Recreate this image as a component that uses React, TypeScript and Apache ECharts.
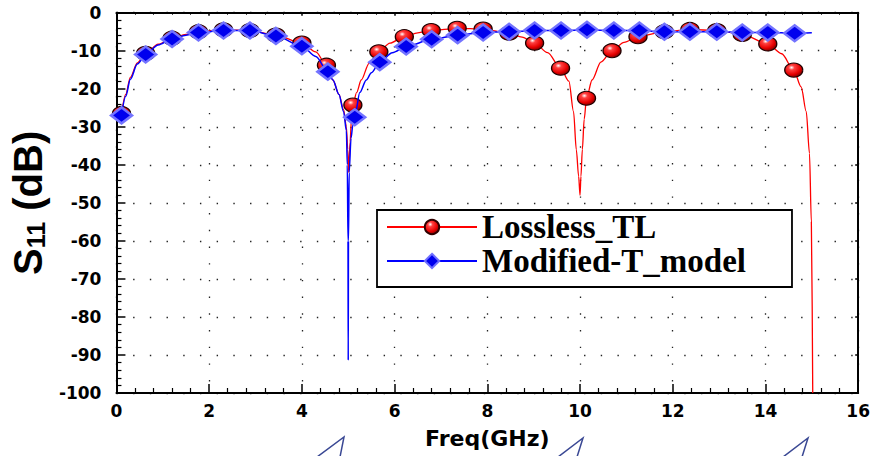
import React, { useEffect, useRef } from "react";
import * as echarts from "echarts";

// Lossless_TL: hand-read curve
const losslessFreq = [0.11, 0.2, 0.3, 0.45, 0.63, 0.9, 1.2, 1.5, 1.77, 2.31, 2.88, 3.44, 4.0, 4.3, 4.53, 4.67, 4.8, 4.9, 4.96, 4.99, 5.01, 5.04, 5.07, 5.1, 5.18, 5.28, 5.45, 5.66, 5.9, 6.21, 6.5, 6.79, 7.35, 7.91, 8.47, 8.75, 9.02, 9.3, 9.58, 9.76, 9.86, 9.92, 9.97, 10.0, 10.02, 10.05, 10.09, 10.14, 10.26, 10.45, 10.69, 10.95, 11.25, 11.82, 12.37, 12.95, 13.5, 14.05, 14.35, 14.61, 14.77, 14.88, 14.95, 14.99, 15.02];
const losslessDb = [-26.5, -21.5, -17, -13.2, -10.7, -8.3, -6.7, -5.7, -5.0, -4.5, -4.7, -5.9, -8.0, -10.3, -13.8, -17.7, -21.5, -25.5, -30, -36, -42, -34, -28, -24.3, -21, -17.7, -13.3, -10.3, -8.0, -6.3, -5.3, -4.7, -4.1, -4.3, -5.4, -6.4, -8.0, -10.5, -14.6, -18, -26, -36, -43, -48, -43, -36, -28, -22.5, -17.7, -13, -10.0, -7.8, -6.3, -5.0, -4.4, -4.7, -5.7, -8.2, -10.8, -15.1, -19.5, -26, -37, -55, -100];
// Lossless_TL: markers
const losslessMarkFreq = [0.11, 0.63, 1.2, 1.77, 2.31, 2.88, 3.44, 4.0, 4.53, 5.1, 5.66, 6.21, 6.79, 7.35, 7.91, 8.47, 9.02, 9.58, 10.14, 10.69, 11.25, 11.82, 12.37, 12.95, 13.5, 14.05, 14.61];
const losslessMarkDb = [-26.5, -10.7, -6.7, -5.0, -4.5, -4.7, -5.9, -8.0, -13.8, -24.3, -10.3, -6.3, -4.7, -4.1, -4.3, -5.4, -8.0, -14.6, -22.5, -10.0, -6.3, -5.0, -4.4, -4.7, -5.7, -8.2, -15.1];

// Modified-T_model: hand-read curve
const modelFreq = [0.11, 0.2, 0.3, 0.45, 0.63, 0.9, 1.2, 1.5, 1.77, 2.31, 2.88, 3.44, 4.0, 4.3, 4.56, 4.67, 4.8, 4.9, 4.96, 4.98, 4.995, 5.0, 5.005, 5.02, 5.06, 5.1, 5.14, 5.25, 5.39, 5.5, 5.68, 5.95, 6.25, 6.8, 7.36, 7.91, 8.47, 9.02, 9.59, 10.15, 10.73, 11.28, 11.82, 12.37, 12.95, 13.5, 14.05, 14.63, 15.0];
const modelDb = [-27, -22, -17.5, -13.5, -11.0, -8.5, -6.9, -5.9, -5.2, -4.7, -4.7, -6.1, -8.8, -11.5, -15.5, -17.7, -21.5, -26, -31, -40, -60, -91.4, -60, -42, -33, -29.5, -27.5, -21, -17.7, -15.8, -13.0, -10.5, -8.9, -7.0, -5.9, -5.2, -5.0, -4.7, -4.7, -4.5, -4.7, -4.7, -5.0, -5.0, -5.0, -5.2, -5.2, -5.4, -5.3];
// Modified-T_model: markers
const modelMarkFreq = [0.11, 0.63, 1.2, 1.77, 2.31, 2.88, 3.44, 4.0, 4.56, 5.14, 5.68, 6.25, 6.8, 7.36, 7.91, 8.47, 9.02, 9.59, 10.15, 10.73, 11.28, 11.82, 12.37, 12.95, 13.5, 14.05, 14.63];
const modelMarkDb = [-27.0, -11.0, -6.9, -5.2, -4.7, -4.7, -6.1, -8.8, -15.5, -27.5, -13.0, -8.9, -7.0, -5.9, -5.2, -5.0, -4.7, -4.7, -4.5, -4.7, -4.7, -5.0, -5.0, -5.0, -5.2, -5.2, -5.4];

const seriesNames = ["Lossless_TL", "Modified-T_model"];

const pairs = (xs: number[], ys: number[]) => xs.map((x, i) => [x, ys[i]]);

const sphere = {
  type: "radial",
  x: 0.38,
  y: 0.32,
  r: 0.75,
  colorStops: [
    { offset: 0, color: "#ffffff" },
    { offset: 0.22, color: "#ff4040" },
    { offset: 0.65, color: "#e60000" },
    { offset: 1, color: "#6a0000" },
  ],
};

const axisFont = "DejaVu Sans";

export default function App() {
  const ref = useRef<HTMLDivElement>(null);
  useEffect(() => {
    if (!ref.current) return;
    const chart = echarts.init(ref.current, null, { renderer: "svg" });
    const tickCommon = { inside: true, lineStyle: { color: "#000", width: 1.5 } };
    const option: any = {
      animation: false,
      backgroundColor: "#fff",
      grid: { left: 115.7, right: 12.5, top: 12.7, bottom: 63, containLabel: false },
      legend: {
        orient: "vertical",
        left: 377,
        top: 210,
        data: seriesNames,
        itemWidth: 90,
        itemHeight: 18,
        itemGap: 0,
        padding: [0, 46, 9, 9],
        borderColor: "#000",
        borderWidth: 1.8,
        backgroundColor: "#fff",
        textStyle: {
          fontFamily: "Liberation Serif",
          fontWeight: "bold",
          fontSize: 33,
          lineHeight: 34,
          color: "#000",
        },
      },
      xAxis: [
        {
          type: "value",
          min: 0,
          max: 16,
          interval: 2,
          name: "Freq(GHz)",
          nameLocation: "middle",
          nameGap: 34,
          nameTextStyle: { fontFamily: axisFont, fontWeight: "bold", fontSize: 22, color: "#000" },
          axisLine: { onZero: false, lineStyle: { color: "#000", width: 2 } },
          axisTick: { ...tickCommon, length: 9 },
          minorTick: { show: true, splitNumber: 5, length: 5, lineStyle: { color: "#000", width: 1.2 } },
          axisLabel: { margin: 9, fontFamily: axisFont, fontWeight: "bold", fontSize: 17, color: "#000" },
          splitLine: { show: true, lineStyle: { color: "#222", width: 1.3, type: [1.4, 15.3] } },
        },
        {
          type: "value",
          position: "top",
          min: 0,
          max: 16,
          interval: 2,
          axisLine: { onZero: false, lineStyle: { color: "#000", width: 2 } },
          axisTick: { ...tickCommon, length: 3 },
          minorTick: { show: true, splitNumber: 5, length: 2, lineStyle: { color: "#000", width: 1 } },
          axisLabel: { show: false },
          splitLine: { show: false },
        },
      ],
      yAxis: [
        {
          type: "value",
          min: -100,
          max: 0,
          interval: 10,
          name: "{a|S}{b|11}{a| (dB)}",
          nameLocation: "middle",
          nameRotate: 90,
          nameGap: 64,
          nameTextStyle: {
            fontFamily: "Liberation Sans",
            fontWeight: "bold",
            fontSize: 40,
            color: "#000",
            rich: {
              a: { fontFamily: "Liberation Sans", fontWeight: "bold", fontSize: 40, color: "#000" },
              b: { fontFamily: "Liberation Sans", fontWeight: "bold", fontSize: 25, color: "#000", verticalAlign: "bottom" },
            },
          },
          axisLine: { onZero: false, lineStyle: { color: "#000", width: 2 } },
          axisTick: { ...tickCommon, length: 9 },
          minorTick: { show: true, splitNumber: 5, length: 5, lineStyle: { color: "#000", width: 1.2 } },
          axisLabel: { margin: 15, fontFamily: axisFont, fontWeight: "bold", fontSize: 17, color: "#000" },
          splitLine: { show: true, lineStyle: { color: "#222", width: 1.3, type: [1.4, 15.3] } },
        },
        {
          type: "value",
          position: "right",
          min: -100,
          max: 0,
          interval: 10,
          axisLine: { onZero: false, lineStyle: { color: "#000", width: 2 } },
          axisTick: { ...tickCommon, length: 3 },
          axisLabel: { show: false },
          splitLine: { show: false },
        },
      ],
      series: [
        {
          name: seriesNames[0],
          type: "line",
          data: pairs(losslessFreq, losslessDb),
          symbol: "circle",
          showSymbol: false,
          smooth: 0.3,
          smoothMonotone: "x",
          lineStyle: { color: "#ff0000", width: 1.3 },
          itemStyle: { color: sphere, borderColor: "#300000", borderWidth: 1 },
          z: 2,
        },
        {
          name: seriesNames[0],
          type: "scatter",
          data: pairs(losslessMarkFreq, losslessMarkDb),
          symbol: "circle",
          symbolSize: [18, 14],
          itemStyle: { color: sphere, borderColor: "#200000", borderWidth: 1.2, opacity: 1 },
          z: 3,
        },
        {
          name: seriesNames[1],
          type: "line",
          data: pairs(modelFreq, modelDb),
          symbol: "diamond",
          showSymbol: false,
          smooth: 0.3,
          smoothMonotone: "x",
          lineStyle: { color: "#0000ff", width: 1.5 },
          itemStyle: { color: "#0000ee", borderColor: "#7070ff", borderWidth: 2 },
          z: 4,
        },
        {
          name: seriesNames[1],
          type: "scatter",
          data: pairs(modelMarkFreq, modelMarkDb),
          symbol: "diamond",
          symbolSize: [21, 16],
          itemStyle: { color: "#0000ee", borderColor: "#7373ff", borderWidth: 2.5, opacity: 1 },
          z: 5,
        },
      ],
      graphic: [
        { type: "polyline", shape: { points: [[317, 457], [344, 437], [340, 457]] }, style: { stroke: "#3a4894", lineWidth: 1.5, fill: null } },
        { type: "polyline", shape: { points: [[558, 457], [583, 438], [577, 457]] }, style: { stroke: "#3a4894", lineWidth: 1.5, fill: null } },
        { type: "polyline", shape: { points: [[783, 457], [808, 438], [802, 457]] }, style: { stroke: "#3a4894", lineWidth: 1.5, fill: null } },
      ],
    };
    chart.setOption(option);
    return () => chart.dispose();
  }, []);
  return (
    <div
      ref={ref}
      style={{ position: "absolute", left: 0, top: 0, width: 873, height: 456, background: "#fff" }}
    />
  );
}
